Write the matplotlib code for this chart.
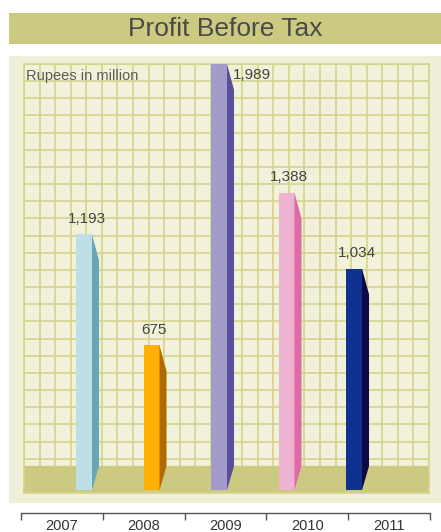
import matplotlib.pyplot as plt
import numpy as np
from matplotlib.patches import Rectangle, Polygon

plt.rcParams['font.family'] = ['Liberation Sans', 'DejaVu Sans']

years = ['2007', '2008', '2009', '2010', '2011']
profit = [1193, 675, 1989, 1388, 1034]
front_colors = ['#bfdfe7', '#ffb000', '#a39ccb', '#eeb2d3', '#0f3190']
side_colors = ['#65a7b7', '#b06b00', '#5a4f9c', '#de6aa6', '#0c0945']

W, H = 441, 532
fig = plt.figure(figsize=(W / 100, H / 100), dpi=100)


def fx(px):
    return px / W


def fy(py):
    return 1 - py / H


# title band and background panel
fig.patches.append(Rectangle((fx(9), fy(44)), fx(432), 31 / H, transform=fig.transFigure,
                             facecolor='#cbca80', edgecolor='none', zorder=-10))
fig.text(fx(225), fy(29), 'Profit Before Tax', ha='center', va='center',
         fontsize=19, color='#4a4a4a')
fig.patches.append(Rectangle((fx(9), fy(503)), fx(432), 447 / H, transform=fig.transFigure,
                             facecolor='#f0f0d8', edgecolor='none', zorder=-10))

# main chart area
ax = fig.add_axes([fx(24), fy(493), fx(405), 429 / H])
ax.set_facecolor('#f2f1da')
ax.set_xlim(-0.889, 5.111)
ax.set_ylim(-14, 1989)
ax.set_xticks(np.linspace(-0.889, 5.111, 27))
ax.set_yticks(np.linspace(-14, 1989, 26))
ax.grid(True, color='#d6d48c', linewidth=1.2)
ax.set_axisbelow(True)
ax.tick_params(length=0, labelbottom=False, labelleft=False)
for s in ax.spines.values():
    s.set_color('#d6d48c')
    s.set_linewidth(1.2)

floor_top = 112
ax.axhspan(-14, floor_top, color='#cbca80', zorder=1)

w = 0.237
d = 0.104
drop = 121
x = np.arange(len(years))
ax.bar(x, profit, width=w, color=front_colors, zorder=3, clip_on=False)
for xi, v, sc in zip(x, profit, side_colors):
    xr = xi + w / 2
    ax.add_patch(Polygon([(xr, v), (xr + d, v - drop), (xr + d, floor_top), (xr, 0)],
                         closed=True, facecolor=sc, edgecolor='none', zorder=3,
                         clip_on=False))
    if v == max(profit):
        ax.annotate(f'{v:,}', (xr + d, v), xytext=(-1, -8), textcoords='offset points',
                    ha='left', va='center', fontsize=11, color='#444444', zorder=4)
    else:
        ax.annotate(f'{v:,}', (xi + 0.04, v), xytext=(0, 11), textcoords='offset points',
                    ha='center', va='center', fontsize=11, color='#444444', zorder=4)

ax.text(0.004, 0.988, 'Rupees in million', transform=ax.transAxes, ha='left', va='top',
        fontsize=10.5, color='#5a5a5a', zorder=4)

# year axis below
ax2 = fig.add_axes([fx(21), fy(513), fx(409), 0.0001])
ax2.set_xlim(0, 5)
ax2.set_ylim(0, 1)
ax2.patch.set_visible(False)
for side in ['top', 'left', 'right']:
    ax2.spines[side].set_visible(False)
ax2.spines['bottom'].set_color('#555555')
ax2.spines['bottom'].set_linewidth(1)
ax2.set_yticks([])
ax2.set_xticks(range(6))
ax2.set_xticklabels([])
ax2.tick_params(axis='x', which='major', length=5, color='#555555', width=1, direction='out')
ax2.set_xticks(np.arange(len(years)) + 0.5, minor=True)
ax2.set_xticklabels(years, minor=True)
ax2.tick_params(axis='x', which='minor', length=0, pad=4, labelsize=10.5, labelcolor='#333333')

fig.savefig('out.png', dpi=100)
